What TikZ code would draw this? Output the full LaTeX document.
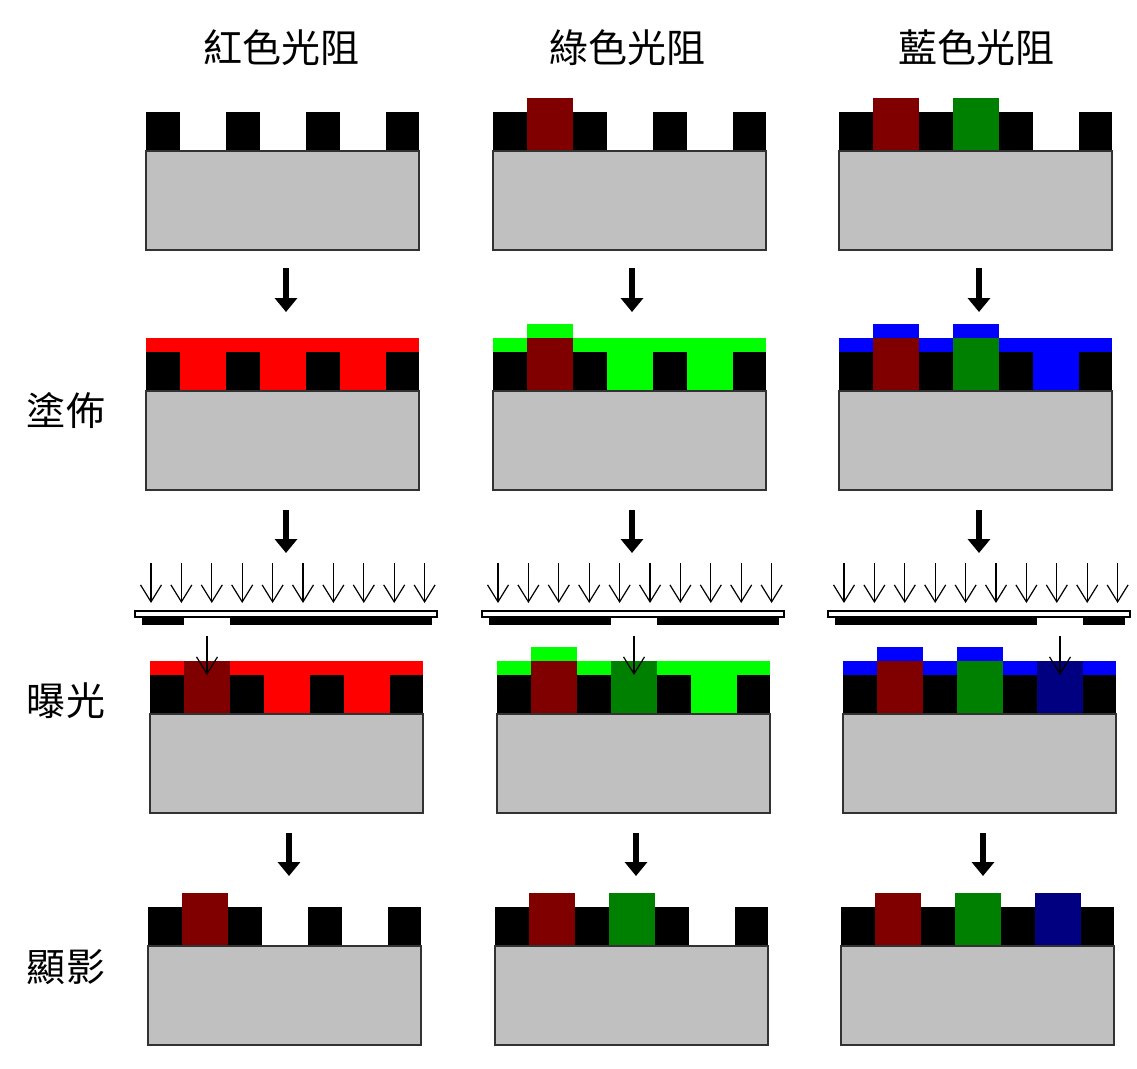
\documentclass[tikz,border=0pt]{standalone}
\usepackage{fontspec}
\newfontfamily\cjk{Noto Sans CJK TC}
\usetikzlibrary{arrows.meta}

\definecolor{coatred}{RGB}{255,0,0}
\definecolor{pixred}{RGB}{128,0,0}
\definecolor{coatgreen}{RGB}{0,255,0}
\definecolor{pixgreen}{RGB}{0,128,0}
\definecolor{coatblue}{RGB}{0,0,255}
\definecolor{pixblue}{RGB}{0,0,128}
\definecolor{glassgray}{RGB}{192,192,192}
\definecolor{edgegray}{RGB}{50,50,50}

\tikzset{
  substrate/.style={fill=glassgray, draw=edgegray, line width=2.2pt},
  blackmatrix/.style={fill=black},
  cjklabel/.style={font=\cjk\fontsize{39}{42}\selectfont, inner sep=0pt},
  flowarrow/.style={line width=6pt, -{Triangle[length=14pt,width=22pt]}},
  lightray/.style={line width=1.2pt, -{Straight Barb[length=17pt,width=21pt,line width=1.2pt]}},
  maskglass/.style={fill=white, draw=black, line width=1.2pt},
  maskchrome/.style={fill=black},
}

% #1 = left x, #2 = top of the black matrix
\newcommand\coatlayer[3]{%
  \fill[#3] (#1,{#2-14}) rectangle ({#1+273},{#2+39});}
\newcommand\matrixpanel[2]{%
  \foreach \k in {0,1,2}{\fill[blackmatrix] ({#1+80*\k},#2) rectangle ({#1+80*\k+34},{#2+39});}
  \fill[blackmatrix] ({#1+240},#2) rectangle ({#1+273},{#2+39});}
\newcommand\substrateslab[2]{%
  \draw[substrate] (#1,{#2+39}) rectangle ({#1+273},{#2+138});}
% #3 = opening index (1..3), #4 = colour
\newcommand\pixelfill[4]{%
  \fill[#4] ({#1+34+80*(#3-1)},{#2-14}) rectangle ({#1+80*#3},{#2+39});}
\newcommand\pixelcap[4]{%
  \fill[#4] ({#1+34+80*(#3-1)},{#2-28}) rectangle ({#1+80*#3},{#2-14});}
% photomask with opening #2 above panel at x=#1
\newcommand\photomask[2]{%
  \fill[maskchrome] ({#1-8},617) rectangle ({#1+34+80*(#2-1)},625);
  \fill[maskchrome] ({#1+80*#2},617) rectangle ({#1+282},625);
  \draw[maskglass] ({#1-15},611) rectangle ({#1+287},617);
  \foreach \i in {0,...,9}{\draw[lightray] ({#1+1+30.4*\i},563) -- ({#1+1+30.4*\i},603);}}

\begin{document}
\begin{tikzpicture}[x=1pt,y=-1pt]
\useasboundingbox[fill=white] (0,0) rectangle (1137,1068);

% column headings
\node[cjklabel] (hR) at (281,48) {紅色光阻};
\node[cjklabel] (hG) at (627,48) {綠色光阻};
\node[cjklabel] (hB) at (976,48) {藍色光阻};

% step labels
\node[cjklabel] (sCoat) at (66,411) {塗佈};
\node[cjklabel] (sExpo) at (66,701) {曝光};
\node[cjklabel] (sDev)  at (66,967) {顯影};

% ---- row 1: starting substrates
\matrixpanel{146}{112}\substrateslab{146}{112}
\matrixpanel{493}{112}\pixelfill{493}{112}{1}{pixred}\substrateslab{493}{112}
\matrixpanel{839}{112}\pixelfill{839}{112}{1}{pixred}\pixelfill{839}{112}{2}{pixgreen}\substrateslab{839}{112}

% ---- row 2: coating
\coatlayer{146}{352}{coatred}\matrixpanel{146}{352}\substrateslab{146}{352}
\coatlayer{493}{352}{coatgreen}\matrixpanel{493}{352}
\pixelfill{493}{352}{1}{pixred}\pixelcap{493}{352}{1}{coatgreen}\substrateslab{493}{352}
\coatlayer{839}{352}{coatblue}\matrixpanel{839}{352}
\pixelfill{839}{352}{1}{pixred}\pixelfill{839}{352}{2}{pixgreen}
\pixelcap{839}{352}{1}{coatblue}\pixelcap{839}{352}{2}{coatblue}\substrateslab{839}{352}

% ---- row 3: exposure through the mask
\photomask{150}{1}
\photomask{497}{2}
\photomask{843}{3}
\coatlayer{150}{675}{coatred}\matrixpanel{150}{675}
\pixelfill{150}{675}{1}{pixred}\substrateslab{150}{675}
\coatlayer{497}{675}{coatgreen}\matrixpanel{497}{675}
\pixelfill{497}{675}{1}{pixred}\pixelcap{497}{675}{1}{coatgreen}
\pixelfill{497}{675}{2}{pixgreen}\substrateslab{497}{675}
\coatlayer{843}{675}{coatblue}\matrixpanel{843}{675}
\pixelfill{843}{675}{1}{pixred}\pixelfill{843}{675}{2}{pixgreen}
\pixelcap{843}{675}{1}{coatblue}\pixelcap{843}{675}{2}{coatblue}
\pixelfill{843}{675}{3}{pixblue}\substrateslab{843}{675}
% rays passing through the mask openings onto the resist
\foreach \x in {207,634,1060}{\draw[lightray] (\x,636) -- (\x,675);}

% ---- row 4: developed
\matrixpanel{148}{907}\pixelfill{148}{907}{1}{pixred}\substrateslab{148}{907}
\matrixpanel{495}{907}\pixelfill{495}{907}{1}{pixred}\pixelfill{495}{907}{2}{pixgreen}\substrateslab{495}{907}
\matrixpanel{841}{907}\pixelfill{841}{907}{1}{pixred}\pixelfill{841}{907}{2}{pixgreen}
\pixelfill{841}{907}{3}{pixblue}\substrateslab{841}{907}

% ---- process-flow arrows
\foreach \c/\x/\ya/\yb in {a/286/268/312, b/632/268/312, c/979/268/312,
                          d/286/510/553, e/632/510/553, f/979/510/553,
                          g/289/833/876, h/636/833/876, i/983/833/876}{
  \coordinate (\c0) at (\x,\ya);
  \coordinate (\c1) at (\x,\yb);
  \draw[flowarrow] (\c0) -- (\c1);
}
\end{tikzpicture}
\end{document}
